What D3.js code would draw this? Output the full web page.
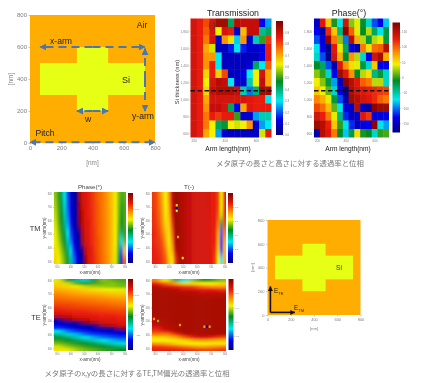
<!DOCTYPE html>
<html>
<head>
<meta charset="utf-8">
<script src="https://cdn.jsdelivr.net/npm/d3@7"></script>
<style>
	html, body {margin: 0; padding: 0; background: #fff;}
	svg {display: block; font-family: "Liberation Sans", Arial, sans-serif; filter: blur(0.4px);}
	.tick text {fill: #808080;}
	.tick line, .domain {stroke: #888;}
</style>
</head>
<body>
<svg id="scene" width="441" height="383"></svg>
<script>
'use strict';

// parameter sweep, top row
const armLengths = [200, 240, 280, 320, 360, 400, 440, 480, 520, 560, 600, 640, 680];
const thicknesses = [1900, 1800, 1700, 1600, 1500, 1400, 1300, 1200, 1100, 1000, 900, 800, 700, 600];

const sweepT = [
	[.88, .85, .8, .88, .95, .95, .42, .92, .9, .9, .9, .14, .25],
	[.88, .85, .78, .88, .62, .88, .85, .1, .68, .9, .9, .38, .42],
	[.88, .85, .75, .88, .1, .72, .64, .28, .72, .1, .35, .5, .82],
	[.88, .85, .7, .6, .08, .08, .16, .3, .16, .1, .1, .12, .85],
	[.88, .85, .72, .72, .3, .08, .08, .08, .08, .08, .08, .14, .85],
	[.88, .85, .72, .85, .3, .08, .08, .08, .08, .12, .42, .3, .78],
	[.88, .85, .65, .85, .66, .8, .08, .08, .12, .3, .62, .88, .7],
	[.88, .85, .62, .88, .92, .9, .3, .1, .1, .35, .62, .9, .7],
	[.88, .85, .65, .9, .92, .92, .92, .9, .35, .22, .4, .95, .95],
	[.88, .85, .7, .88, .88, .88, .88, .88, .88, .86, .85, .85, .3],
	[.88, .85, .72, .9, .9, .88, .42, .14, .7, .86, .85, .85, .85],
	[.88, .85, .75, .85, .82, .85, .85, .5, .1, .1, .25, .35, .35],
	[.88, .85, .75, .62, .42, .45, .62, .6, .62, .72, .1, .25, .3],
	[.88, .85, .7, .62, .25, .1, .08, .08, .08, .08, .08, .6, .85]
];

const sweepPhase = [
	[-150, 130, 60, -5, -70, 140, 20, 40, -15, -60, -110, -130, -80],
	[-130, -160, 120, 60, -40, 170, 100, 40, -10, 30, -30, -70, -20],
	[-110, -140, 170, 90, 20, -100, 150, 70, 30, -20, 30, 40, -20],
	[-70, -130, -175, 130, 40, -30, -135, -160, 90, 50, 95, 100, 150],
	[-60, -110, -170, 140, 70, -10, 80, 30, -60, -130, 140, 160, 70],
	[-10, -30, -110, -160, 130, 80, 50, 40, -20, -60, 60, -130, -130],
	[20, 0, -60, -130, 165, 130, 80, -10, 30, 50, -40, -20, -60],
	[45, 20, -20, -90, -150, 175, 150, 130, 100, 90, 30, 30, -60],
	[60, 45, 10, -60, -130, -170, 155, 140, 130, 125, 120, 115, 110],
	[85, 70, 40, -20, -110, -160, 165, 150, 140, 130, 120, 100, 90],
	[110, 95, 65, 10, -70, -140, -150, 150, -150, -165, 170, 165, 165],
	[140, 125, 90, 40, -40, -120, -150, -150, 130, 115, -140, -140, -135],
	[165, 150, 125, 60, 0, -70, -120, -150, -140, -130, 170, -70, -90],
	[-160, 150, 130, 90, -10, -80, -20, 50, -5, -10, -60, 0, 5]
];

// x,y arm sweep, bottom rows
const armTicks = [300, 400, 500, 600, 700, 800];

const tmPhase = [
	[20, 0, -25, -70, -110, -140, -160, -175, 165, 140, 130, 125, 118, 110, 100, 95, 88, 80, 70, 60, 45, 20, 5, 10],
	[25, 5, -20, -60, -105, -135, -158, -172, 168, 142, 132, 126, 118, 112, 102, 95, 88, 80, 70, 60, 45, 18, 0, 5],
	[30, 8, -12, -50, -100, -130, -155, -170, 172, 145, 132, 126, 120, 112, 102, 96, 88, 80, 72, 60, 45, 18, -5, 5],
	[35, 12, -8, -40, -90, -125, -150, -168, 178, 150, 134, 128, 120, 112, 104, 96, 90, 82, 72, 60, 45, 15, -10, 5],
	[40, 20, 0, -20, -70, -115, -140, -160, -178, 155, 136, 128, 120, 114, 104, 96, 90, 82, 72, 60, 45, 12, -30, 0],
	[45, 28, 8, -10, -50, -100, -130, -150, -172, 165, 140, 130, 122, 114, 106, 98, 90, 82, 72, 60, 42, 10, -70, 10],
	[50, 38, 20, 2, -25, -75, -120, -140, -160, -178, 150, 132, 124, 116, 106, 98, 90, 82, 72, 60, 40, 5, -110, 60],
	[55, 45, 30, 12, -5, -45, -100, -130, -150, -170, 170, 135, 126, 118, 108, 100, 92, 84, 74, 60, 38, 0, -150, 100]
];

const tmT = [
	[.82, .8, .75, .68, .62, .72, .9, .95, .95, .93, .92, .9, .9, .88, .88, .88, .88, .88, .88, .85, .85, .8, .62, .85],
	[.82, .8, .76, .7, .62, .7, .88, .95, .95, .93, .92, .9, .9, .88, .88, .88, .88, .88, .88, .85, .85, .8, .62, .85],
	[.83, .81, .77, .71, .63, .68, .85, .95, .95, .93, .92, .9, .9, .88, .88, .88, .88, .88, .87, .85, .85, .78, .6, .85],
	[.83, .82, .78, .72, .65, .66, .8, .95, .95, .93, .92, .9, .9, .88, .88, .88, .88, .88, .87, .85, .85, .75, .45, .8],
	[.84, .83, .8, .75, .68, .64, .76, .94, .95, .93, .92, .9, .9, .88, .88, .88, .88, .88, .87, .85, .84, .7, .2, .75],
	[.84, .83, .82, .78, .7, .63, .72, .93, .95, .93, .92, .9, .9, .88, .88, .88, .88, .88, .87, .85, .84, .68, .15, .7],
	[.85, .84, .83, .8, .75, .65, .68, .88, .95, .93, .92, .9, .9, .88, .88, .88, .88, .88, .87, .85, .82, .65, .15, .68],
	[.85, .85, .84, .82, .78, .68, .62, .8, .92, .93, .92, .9, .9, .88, .88, .88, .88, .88, .87, .85, .8, .62, .3, .7]
];

const tePhase = [
	[40, -10, -40, -60, -10, 20, 10, 5],
	[55, 35, 5, -5, 5, 15, 20, 10],
	[60, 55, 45, 30, 25, 22, 20, 15],
	[70, 65, 60, 55, 50, 45, 42, 40],
	[80, 75, 70, 65, 62, 60, 55, 55],
	[88, 85, 80, 78, 75, 72, 68, 65],
	[95, 92, 90, 88, 85, 82, 78, 75],
	[102, 100, 98, 95, 92, 90, 88, 85],
	[110, 108, 105, 102, 100, 98, 95, 92],
	[118, 115, 112, 110, 108, 105, 102, 100],
	[125, 122, 120, 118, 115, 112, 110, 108],
	[135, 130, 126, 124, 122, 120, 118, 115],
	[155, 145, 135, 130, 128, 125, 124, 122],
	[-175, 170, 155, 145, 135, 130, 128, 126],
	[-150, -165, -178, 170, 155, 140, 135, 130],
	[-130, -140, -155, -170, -178, 165, 150, 140],
	[-115, -125, -135, -145, -155, -170, -178, 170],
	[-70, -100, -115, -125, -130, -140, -150, -155],
	[-40, -60, -85, -105, -115, -120, -125, -130],
	[-15, -30, -50, -70, -90, -100, -110, -115],
	[0, -10, -25, -40, -55, -70, -85, -95],
	[15, 5, -5, -15, -25, -40, -55, -65],
	[35, 20, 10, 0, -5, -15, -25, -35],
	[50, 40, 25, 15, 8, 0, -5, -10]
];

const teT = [
	[.75, .62, .5, .3, .55, .48, .5, .55],
	[.85, .78, .72, .6, .65, .62, .62, .65],
	[.92, .88, .85, .82, .8, .75, .72, .72],
	[.93, .93, .92, .88, .88, .85, .85, .82],
	[.94, .94, .93, .92, .92, .9, .9, .9],
	[.94, .94, .94, .93, .93, .93, .92, .92],
	[.94, .94, .94, .94, .94, .93, .93, .93],
	[.94, .94, .94, .94, .94, .94, .94, .94],
	[.94, .94, .94, .94, .94, .94, .94, .94],
	[.94, .94, .94, .94, .94, .94, .94, .94],
	[.94, .94, .94, .94, .94, .94, .94, .94],
	[.94, .94, .94, .94, .94, .94, .94, .94],
	[.93, .94, .94, .94, .94, .94, .94, .94],
	[.92, .93, .94, .94, .94, .94, .94, .94],
	[.92, .93, .94, .94, .94, .94, .94, .94],
	[.9, .92, .93, .94, .94, .94, .94, .94],
	[.85, .92, .93, .94, .94, .94, .94, .94],
	[.82, .85, .92, .94, .94, .94, .94, .94],
	[.75, .74, .82, .9, .92, .93, .93, .92],
	[.65, .66, .7, .78, .85, .88, .85, .8],
	[.62, .62, .63, .65, .7, .72, .7, .68],
	[.72, .7, .66, .63, .62, .62, .63, .63],
	[.82, .8, .78, .75, .72, .7, .72, .74],
	[.85, .85, .84, .83, .82, .8, .8, .82]
];

// stray points in the T maps: x-arm, y-arm, T
const tmSpots = [[457, 672, .62], [457, 712, .62], [457, 692, .08], [466, 479, .7], [500, 324, .62]];
const teSpots = [[655, 459, .7], [693, 459, .7], [674, 459, .08], [294, 516, .7], [323, 501, .55], [480, 471, .7]];

// meta atom drawing, in nm
const pitch = 800;
const crossRects = [[64, 300, 736, 500], [300, 200, 500, 600]];
const structTicks = [0, 200, 400, 600, 800];
const armArrows = [
	[[400, 600], [64, 600]],
	[[400, 600], [736, 600]],
	[[736, 400], [736, 590]],
	[[736, 400], [736, 200]],
	[[400, 200], [300, 200]],
	[[400, 200], [500, 200]],
	[[400, 4], [0, 4]],
	[[400, 4], [800, 4]]
];
const fieldArrows = [[[25, 22], [25, 240]], [[25, 22], [235, 22]]];

const colorStops = [0, .14, .3, .47, .62, .73, .85, 1];
const colorValues = ['#00007e', '#0000f0', '#00e8f0', '#008a20', '#f2f200', '#ff8c00', '#e81a0a', '#7e0000'];
const rainbow = d3.scaleLinear().domain(colorStops).range(colorValues);
const colorT = v => rainbow(v);
const colorPhase = v => rainbow((v + 180) / 360);

const svg = d3.select('#scene');
const defs = svg.append('defs');

const setAttr = (el, attrs) => Object.keys(attrs)
	.forEach(key => el.attr(key, attrs[key]));

const addText = (str, x, y, size, fill, extra = {}) => {
	const el = svg.append('text').text(str);
	setAttr(el, Object.assign({x, y, 'font-size': size, 'fill': fill, 'text-anchor': 'middle'}, extra));
	return el;
};

const addVLabel = (str, x, y, size, fill) =>
	addText(str, 0, 0, size, fill, {x: 0, y: 0, transform: `translate(${x},${y}) rotate(-90)`});

const styleAxis = (g, size) => {
	g.selectAll('text').attr('font-size', size);
	g.selectAll('.tick line').attr('stroke-width', .5);
	g.select('.domain').remove();
};

// blurs for the smooth maps, long along the bands
const addBlur = (id, dev) => {
	const f = defs.append('filter').attr('id', id);
	setAttr(f, {filterUnits: 'userSpaceOnUse', x: 0, y: 0, width: 441, height: 383});
	f.append('feGaussianBlur').attr('stdDeviation', dev);
};
addBlur('soft', '.6 .6');
addBlur('alongY', '1 3.5');
addBlur('alongX', '3.5 1');

let clipId = 0;
// cells of a value matrix, rows top to bottom
const heatmap = ({x0, x1, y0, y1, rows, color, blur}) => {
	const x = d3.scaleBand().domain(d3.range(rows[0].length)).range([x0, x1]);
	const y = d3.scaleBand().domain(d3.range(rows.length)).range([y0, y1]);
	clipId += 1;
	const clip = `clip${clipId}`;
	const rect = defs.append('clipPath').attr('id', clip).append('rect');
	setAttr(rect, {x: x0, y: y0, width: x1 - x0, height: y1 - y0});
	const outer = svg.append('g').attr('clip-path', `url(#${clip})`);
	const g = outer.append('g').attr('filter', `url(#${blur})`);
	const pad = 10; // outer cells run past the clip so the blur has no pale rim
	rows.forEach((row, j) => row.forEach((v, i) => {
		const left = i === 0 ? pad : 0;
		const right = i === row.length - 1 ? pad : 0;
		const top = j === 0 ? pad : 0;
		const bottom = j === rows.length - 1 ? pad : 0;
		const cell = g.append('rect');
		setAttr(cell, {
			x: x(i) - left,
			y: y(j) - top,
			width: x.bandwidth() + .4 + left + right,
			height: y.bandwidth() + .4 + top + bottom,
			fill: color(v)
		});
	}));
	return outer;
};

let gradId = 0;
const colorbar = ({x, y0, y1, width, domain, ticks, fmt, size}) => {
	gradId += 1;
	const grad = defs.append('linearGradient').attr('id', `grad${gradId}`);
	setAttr(grad, {x1: 0, y1: 1, x2: 0, y2: 0});
	colorStops.forEach((t, i) => {
		grad.append('stop').attr('offset', t).attr('stop-color', colorValues[i]);
	});
	const bar = svg.append('rect');
	setAttr(bar, {x, y: y0, width, height: y1 - y0, fill: `url(#grad${gradId})`});
	const scale = d3.scaleLinear().domain(domain).range([y1, y0]);
	const axis = svg.append('g').attr('transform', `translate(${x + width},0)`)
		.call(d3.axisRight(scale).tickValues(ticks).tickFormat(fmt).tickSize(1).tickPadding(1));
	styleAxis(axis, size);
};

// top row sweep maps
const sweepMap = ({x0, x1, rows, color}) => {
	const y0 = 18.5;
	const y1 = 137.5;
	heatmap({x0, x1, y0, y1, rows, color, blur: 'soft'});
	const cellW = (x1 - x0) / armLengths.length;
	const cellH = (y1 - y0) / thicknesses.length;
	const xScale = d3.scaleLinear()
		.domain([armLengths[0], armLengths[armLengths.length - 1]])
		.range([x0 + cellW / 2, x1 - cellW / 2]);
	const yScale = d3.scaleLinear()
		.domain([thicknesses[0], thicknesses[thicknesses.length - 1]])
		.range([y0 + cellH / 2, y1 - cellH / 2]);
	const ax = svg.append('g').attr('transform', `translate(0,${y1})`)
		.call(d3.axisBottom(xScale).tickValues([200, 400, 600]).tickSize(1).tickPadding(1));
	styleAxis(ax, 3.2);
	const ay = svg.append('g').attr('transform', `translate(${x0},0)`)
		.call(d3.axisLeft(yScale).tickValues([1800, 1600, 1400, 1200, 1000, 800, 600]).tickSize(1).tickPadding(1));
	styleAxis(ay, 3.2);
	// the thickness that was picked
	const dash = svg.append('line');
	setAttr(dash, {
		x1: x0,
		x2: x1,
		y1: yScale(1100),
		y2: yScale(1100),
		stroke: '#111',
		'stroke-width': 1.3,
		'stroke-dasharray': '4.5,2.5'
	});
};

sweepMap({x0: 190.5, x1: 271.5, rows: sweepT, color: colorT});
sweepMap({x0: 314, x1: 389, rows: sweepPhase, color: colorPhase});

colorbar({
	x: 276, y0: 21, y1: 135, width: 7, domain: [0, 1],
	ticks: d3.range(0, 1, .1), fmt: d3.format('.1f'), size: 3
});
colorbar({
	x: 392.5, y0: 22.5, y1: 132.5, width: 7.5, domain: [-180, 180],
	ticks: [-150, -100, -50, 0, 50, 100, 150], fmt: d3.format('d'), size: 3
});

addText('Transmission', 233, 16, 8.8, '#222');
addText('(-)', 212, 27, 7, '#333');
addText('Phase(°)', 349, 16, 8.8, '#222');
addText('Arm length(nm)', 228, 151, 6.6, '#222');
addText('Arm length(nm)', 348, 151, 6.6, '#222');
addVLabel('Si thickness (nm)', 179, 82, 5.8, '#333');
addText('メタ原子の長さと高さに対する透過率と位相', 290, 166, 7.4, '#777', {
	'font-family': '"Noto Sans CJK JP"'
});

// bottom arm maps
const armMap = ({x0, x1, y0, y1, rows, color, blur, spots, title, yLabelX}) => {
	heatmap({x0, x1, y0, y1, rows, color, blur});
	const xScale = d3.scaleLinear().domain([280, 810]).range([x0, x1]);
	const yScale = d3.scaleLinear().domain([280, 810]).range([y1, y0]);
	if (spots) {
		spots.forEach(([sx, sy, v]) => {
			const c = svg.append('rect');
			setAttr(c, {
				x: xScale(sx) - 1,
				y: yScale(sy) - 1.2,
				width: 2,
				height: 2.4,
				fill: rainbow(v)
			});
		});
	}
	const ax = svg.append('g').attr('transform', `translate(0,${y1})`)
		.call(d3.axisBottom(xScale).tickValues(armTicks).tickSize(1).tickPadding(1));
	styleAxis(ax, 2.6);
	const ay = svg.append('g').attr('transform', `translate(${x0},0)`)
		.call(d3.axisLeft(yScale).tickValues(armTicks).tickSize(1).tickPadding(1));
	styleAxis(ay, 2.6);
	if (title) addText(title, (x0 + x1) / 2, y0 - 3, 6.2, '#444');
	addText('x-arm(nm)', (x0 + x1) / 2, y1 + 9.5, 4.6, '#444');
	addVLabel('y-arm(nm)', yLabelX, (y0 + y1) / 2, 4.6, '#444');
};

armMap({x0: 54, x1: 126, y0: 192, y1: 264, rows: tmPhase, color: colorPhase, blur: 'alongY', title: 'Phase(°)', yLabelX: 46});
armMap({x0: 152, x1: 226, y0: 192, y1: 264, rows: tmT, color: colorT, blur: 'alongY', spots: tmSpots, title: 'T(-)', yLabelX: 144});
armMap({x0: 54, x1: 126, y0: 279, y1: 351, rows: tePhase, color: colorPhase, blur: 'alongX', yLabelX: 46});
armMap({x0: 152, x1: 226, y0: 279, y1: 351, rows: teT, color: colorT, blur: 'alongX', spots: teSpots, yLabelX: 144});

[[128, 193, 263], [228, 193, 263], [128, 279, 350], [228.5, 279, 350]].forEach(([x, y0, y1], i) => {
	const isPhase = i % 2 === 0;
	colorbar({
		x, y0, y1, width: 5,
		domain: isPhase ? [-180, 180] : [0, 1],
		ticks: isPhase ? [-100, 0, 100] : d3.range(.2, 1, .2),
		fmt: isPhase ? d3.format('d') : d3.format('.1f'),
		size: 2.4
	});
});

addText('TM', 35, 231, 7.4, '#333');
addText('TE', 36, 320, 7.4, '#333');
addText('メタ原子のx,yの長さに対するTE,TM偏光の透過率と位相', 137, 376, 7.4, '#777', {
	'font-family': '"Noto Sans CJK JP"'
});

// meta atom drawings
const structure = ({x0, x1, y0, y1, tickSize, labelSize, labelY, labelX}) => {
	const x = d3.scaleLinear().domain([0, pitch]).range([x0, x1]);
	const y = d3.scaleLinear().domain([0, pitch]).range([y1, y0]);
	const bg = svg.append('rect');
	setAttr(bg, {x: x0, y: y0, width: x1 - x0, height: y1 - y0, fill: '#ffad00'});
	svg.append('g').selectAll('rect').data(crossRects).enter().append('rect')
		.attr('x', d => x(d[0]))
		.attr('y', d => y(d[3]))
		.attr('width', d => x(d[2]) - x(d[0]))
		.attr('height', d => y(d[1]) - y(d[3]))
		.attr('fill', '#e6ff14');
	const ax = svg.append('g').attr('transform', `translate(0,${y1})`)
		.call(d3.axisBottom(x).tickValues(structTicks).tickSize(1.5).tickPadding(1.5));
	styleAxis(ax, tickSize);
	const ay = svg.append('g').attr('transform', `translate(${x0},0)`)
		.call(d3.axisLeft(y).tickValues(structTicks).tickSize(1.5).tickPadding(1.5));
	styleAxis(ay, tickSize);
	addText('[nm]', (x0 + x1) / 2, labelY, labelSize, '#888');
	addVLabel('[nm]', labelX, (y0 + y1) / 2, labelSize, '#888');
	return {x, y};
};

const addMarker = (id, fill, w, h) => {
	const m = defs.append('marker').attr('id', id);
	setAttr(m, {
		viewBox: '0 0 10 10',
		refX: 9,
		refY: 5,
		markerWidth: w,
		markerHeight: h,
		orient: 'auto',
		markerUnits: 'userSpaceOnUse'
	});
	m.append('path').attr('d', 'M0,0L10,5L0,10Z').attr('fill', fill);
};
addMarker('headBlue', '#4a76b4', 7, 7);
addMarker('headBlack', '#111', 5, 6);

const drawArrows = (scales, arrows, attrs) => {
	const path = d3.line().x(d => scales.x(d[0])).y(d => scales.y(d[1]));
	arrows.forEach(a => {
		const el = svg.append('path').attr('d', path(a)).attr('fill', 'none');
		setAttr(el, attrs);
	});
};

const big = structure({x0: 30, x1: 155, y0: 15, y1: 143, tickSize: 6, labelSize: 6.4, labelY: 165, labelX: 13});
drawArrows(big, armArrows, {
	stroke: '#4a76b4',
	'stroke-width': 2,
	'stroke-dasharray': '8,5',
	'marker-end': 'url(#headBlue)'
});
addText('Air', 142, 28, 8.6, '#222');
addText('Si', 126, 83, 9, '#222');
addText('x-arm', 61, 44, 8.6, '#222');
addText('y-arm', 143, 119, 8.6, '#222');
addText('w', 88, 122, 8.6, '#222');
addText('Pitch', 45, 136, 8.6, '#222');

const small = structure({x0: 267.5, x1: 360.5, y0: 220, y1: 315, tickSize: 4, labelSize: 4.4, labelY: 330, labelX: 254});
drawArrows(small, fieldArrows, {
	stroke: '#111',
	'stroke-width': 1.6,
	'marker-end': 'url(#headBlack)'
});
addText('Si', 339, 270, 6.6, '#333');
addText('E', 274, 293, 6.4, '#222', {'text-anchor': 'start'})
	.append('tspan').attr('font-size', 4).attr('dy', 1.5).text('TE');
addText('E', 294, 310, 6.4, '#222', {'text-anchor': 'start'})
	.append('tspan').attr('font-size', 4).attr('dy', 2).text('TM');
</script>
</body>
</html>
